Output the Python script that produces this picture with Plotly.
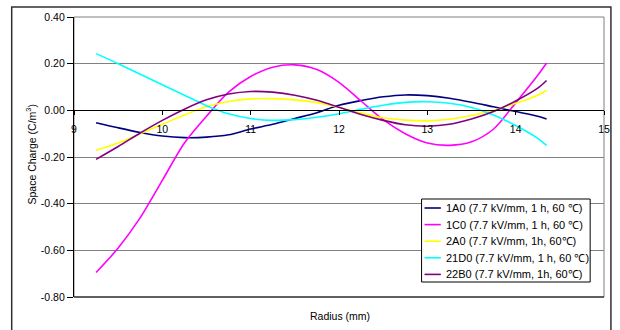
import plotly.graph_objects as go

# ---- data ----
radius = [9.25, 9.5, 9.75, 10.0, 10.25, 10.5, 10.75, 11.0, 11.25, 11.5, 11.75,
          12.0, 12.25, 12.5, 12.75, 13.0, 13.25, 13.5, 13.75, 14.0, 14.25, 14.35]

s_1A0 = [-0.053, -0.075, -0.095, -0.110, -0.117, -0.115, -0.105, -0.080, -0.060, -0.035, -0.010,
         0.022, 0.042, 0.058, 0.066, 0.063, 0.052, 0.035, 0.015, -0.005, -0.025, -0.037]
s_1C0 = [-0.695, -0.590, -0.460, -0.300, -0.140, -0.025, 0.078, 0.145, 0.185, 0.195, 0.175,
         0.120, 0.040, -0.040, -0.100, -0.140, -0.150, -0.135, -0.080, 0.032, 0.150, 0.203]
s_2A0 = [-0.171, -0.140, -0.100, -0.060, -0.020, 0.015, 0.038, 0.049, 0.050, 0.045, 0.033,
         0.013, -0.012, -0.032, -0.042, -0.045, -0.038, -0.022, 0.000, 0.030, 0.065, 0.086]
s_21D0 = [0.243, 0.200, 0.155, 0.110, 0.065, 0.020, -0.015, -0.035, -0.043, -0.040, -0.030,
          -0.015, 0.005, 0.022, 0.034, 0.037, 0.030, 0.012, -0.020, -0.065, -0.120, -0.150]
s_22B0 = [-0.210, -0.155, -0.097, -0.043, 0.005, 0.045, 0.070, 0.081, 0.078, 0.065, 0.043,
          0.013, -0.018, -0.043, -0.062, -0.068, -0.060, -0.037, -0.005, 0.040, 0.095, 0.128]

series_names = ["1A0 (7.7 kV/mm, 1 h, 60 \u2103)",
                "1C0 (7.7 kV/mm, 1 h, 60 \u2103)",
                "2A0 (7.7 kV/mm, 1h, 60\u2103)",
                "21D0 (7.7 kV/mm, 1 h, 60 \u2103)",
                "22B0 (7.7 kV/mm, 1h, 60\u2103)"]
series_values = [s_1A0, s_1C0, s_2A0, s_21D0, s_22B0]
series_colors = ["#000080", "#FF00FF", "#FFFF00", "#00FFFF", "#800080"]

x_ticks = [9, 10, 11, 12, 13, 14, 15]
y_ticks = [0.4, 0.2, 0.0, -0.2, -0.4, -0.6, -0.8]
y_tick_labels = ["0.40", "0.20", "0.00", "-0.20", "-0.40", "-0.60", "-0.80"]

FONT = "Liberation Sans, Arial, sans-serif"

# ---- geometry (pixels) ----
W, H = 620, 330
L, R, T, B = 74, 10, 17, 33
PW, PH = W - L - R, H - T - B


def xp(px):
    return (px - L) / PW


def yp(py):
    return (H - B - py) / PH


fig = go.Figure()
for name, vals, col in zip(series_names, series_values, series_colors):
    fig.add_trace(go.Scatter(x=radius, y=vals, mode="lines", name=name,
                             line=dict(color=col, width=1.6, shape="spline", smoothing=0.8),
                             showlegend=False))

shapes = []
annotations = []
# outer chart border
shapes.append(dict(type="rect", xref="paper", yref="paper",
                   x0=xp(11), x1=xp(617), y0=yp(345), y1=yp(7),
                   line=dict(color="#303030", width=1.5), layer="below"))
# plot area frame (gray), bottom line black
shapes.append(dict(type="rect", xref="paper", yref="paper", x0=0, x1=1, y0=0, y1=1,
                   line=dict(color="#808080", width=1), layer="below"))
shapes.append(dict(type="line", xref="paper", yref="paper", x0=0, x1=1, y0=0, y1=0,
                   line=dict(color="#000000", width=1.2)))

# manual legend
lg_x0, lg_x1, lg_y0, lg_y1 = 425.5, 596, 199, 282
shapes.append(dict(type="rect", xref="paper", yref="paper",
                   x0=xp(lg_x0), x1=xp(lg_x1), y0=yp(lg_y1), y1=yp(lg_y0),
                   line=dict(color="#000000", width=1), fillcolor="white", layer="above"))
for i, (name, col) in enumerate(zip(series_names, series_colors)):
    ry = 208 + 16.6 * i
    shapes.append(dict(type="line", xref="paper", yref="paper",
                       x0=xp(428.5), x1=xp(445), y0=yp(ry), y1=yp(ry),
                       line=dict(color=col, width=1.6), layer="above"))
    annotations.append(dict(text=name, xref="paper", yref="paper", x=xp(448), y=yp(ry),
                            xanchor="left", yanchor="middle", showarrow=False,
                            font=dict(family=FONT, size=11, color="#000000")))

# axis titles
annotations.append(dict(text="Space Charge (C/m<sup>3</sup>)", xref="paper", yref="paper",
                        x=xp(30), y=yp(154), textangle=-90, xanchor="center", yanchor="middle",
                        showarrow=False, font=dict(family=FONT, size=10.5, color="#000000")))
annotations.append(dict(text="Radius (mm)", xref="paper", yref="paper",
                        x=xp(343), y=yp(316), xanchor="center", yanchor="middle",
                        showarrow=False, font=dict(family=FONT, size=10.5, color="#000000")))

fig.update_layout(
    width=W, height=H,
    margin=dict(l=L, r=R, t=T, b=B, pad=0),
    paper_bgcolor="white", plot_bgcolor="white",
    font=dict(family=FONT, size=10, color="#000000"),
    shapes=shapes, annotations=annotations,
    xaxis=dict(range=[9, 15], tickvals=x_ticks, ticks="outside", ticklen=4, tickcolor="#000000",
               showline=True, linecolor="#000000", linewidth=1, showgrid=False, zeroline=False,
               anchor="free", position=0.8 / 1.2, ticklabelstandoff=5,
               tickfont=dict(family=FONT, size=10.5)),
    yaxis=dict(range=[-0.8, 0.4], tickvals=y_ticks, ticktext=y_tick_labels, ticks="outside",
               ticklen=6, tickcolor="#000000", showline=True, linecolor="#000000", linewidth=1.2,
               showgrid=True, gridcolor="#808080", gridwidth=1, zeroline=False,
               tickfont=dict(family=FONT, size=10.5)),
)

fig.write_html("out.html")
